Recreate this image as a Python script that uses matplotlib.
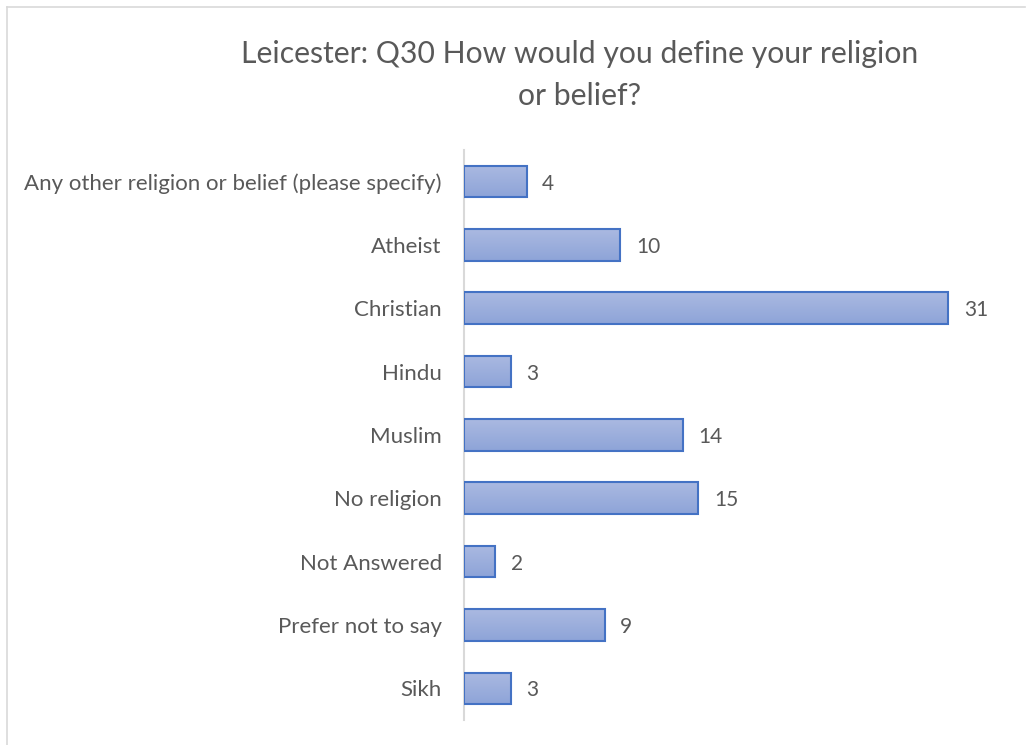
import numpy as np
from matplotlib import pyplot as plt
from matplotlib.lines import Line2D
from matplotlib.colors import LinearSegmentedColormap

categories = ['Any other religion or belief (please specify)', 'Atheist', 'Christian',
              'Hindu', 'Muslim', 'No religion', 'Not Answered', 'Prefer not to say', 'Sikh']
counts = [4, 10, 31, 3, 14, 15, 2, 9, 3]

plt.rcParams['font.family'] = ['Lato', 'DejaVu Sans']
grey = '#595959'

W, H = 1027, 745
fig = plt.figure(figsize=(W / 100, H / 100), dpi=100)
ax = fig.add_axes([464 / W, 25 / H, 547 / W, 570 / H])

ys = np.arange(len(categories))
bar_h = 0.5
ax.barh(ys, counts, height=bar_h, color='none', edgecolor='#4472c4', linewidth=1.5, zorder=3)

# vertical gradient fill, lighter at top of each bar
grad = np.linspace(0, 1, 64).reshape(-1, 1)
cmap = LinearSegmentedColormap.from_list('g', ['#aab9e1', '#8ea4d8'])
for y, v in zip(ys, counts):
    ax.imshow(grad, cmap=cmap, aspect='auto', extent=(0, v, y + bar_h / 2, y - bar_h / 2),
              zorder=2, interpolation='bilinear')
    ax.text(v + 1.0, y + 0.03, str(v), va='center', ha='left', fontsize=15, color=grey)

ax.set_xlim(0, 35)
ax.set_ylim(len(categories) - 0.5, -0.5)
ax.set_yticks(ys)
ax.set_yticklabels(categories, fontsize=16, color=grey)
ax.set_xticks([])
ax.tick_params(axis='y', length=0, pad=16)
for s in ['top', 'right', 'bottom']:
    ax.spines[s].set_visible(False)
ax.spines['left'].set_color('#d9d9d9')
ax.spines['left'].set_linewidth(1.5)

fig.text(580 / W, 1 - 75 / H, 'Leicester: Q30 How would you define your religion\nor belief?',
         ha='center', va='center', fontsize=21.7, color=grey, linespacing=1.6)

# chart area border (left and top visible)
fig.add_artist(Line2D([6.5 / W, 6.5 / W], [0, 1 - 7 / H], color='#d9d9d9', lw=1.2, transform=fig.transFigure))
fig.add_artist(Line2D([6.5 / W, 1025 / W], [1 - 7 / H, 1 - 7 / H], color='#d9d9d9', lw=1.2, transform=fig.transFigure))

fig.savefig('out.png', dpi=100)
